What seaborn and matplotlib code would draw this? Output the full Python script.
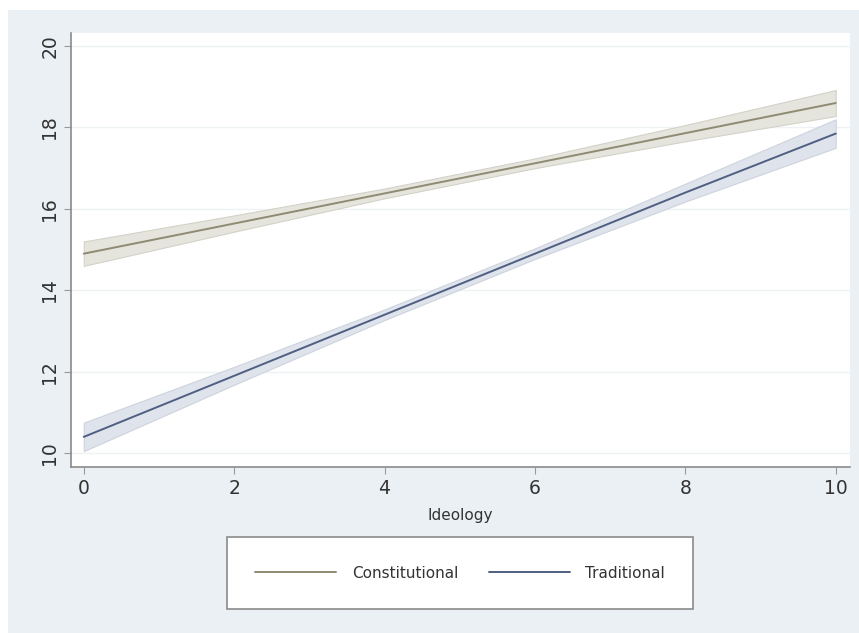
import numpy as np
import pandas as pd
import matplotlib
matplotlib.use("Agg")
import matplotlib.pyplot as plt
from matplotlib.patches import Rectangle
import seaborn as sns

# values
ideology = [0, 2, 4, 6, 8, 10]
constitutional = [14.9, 15.64, 16.38, 17.12, 17.86, 18.6]
constitutional_lo = [14.6, 15.44, 16.26, 17.0, 17.66, 18.28]
constitutional_hi = [15.2, 15.84, 16.5, 17.24, 18.06, 18.92]
traditional = [10.4, 11.9, 13.4, 14.9, 16.4, 17.85]
traditional_lo = [10.05, 11.68, 13.27, 14.77, 16.18, 17.5]
traditional_hi = [10.75, 12.12, 13.53, 15.03, 16.62, 18.2]

xticks = [0, 2, 4, 6, 8, 10]
yticks = [10, 12, 14, 16, 18, 20]

df = pd.DataFrame({
    "Ideology": ideology * 2,
    "value": constitutional + traditional,
    "group": ["Constitutional"] * 6 + ["Traditional"] * 6,
})

bg = "#eaf0f3"
line_cols = {"Constitutional": "#8f8b72", "Traditional": "#4f5f82"}
band_cols = {"Constitutional": "#e5e5de", "Traditional": "#dfe3eb"}

sns.set_theme(style="white")
plt.rcParams["font.family"] = ["DejaVu Sans"]

fig = plt.figure(figsize=(8.59, 6.33), dpi=100, facecolor="white")
fig.patches.append(Rectangle((8 / 859, 0), 1, 1 - 10 / 633, transform=fig.transFigure,
                             facecolor=bg, edgecolor="none", zorder=-10))
ax = fig.add_axes([71 / 859, 1 - 467 / 633, (850 - 71) / 859, (467 - 33) / 633])
ax.set_facecolor("white")

for y in yticks:
    ax.axhline(y, color="#eef2f4", lw=1, zorder=0)

ax.fill_between(ideology, constitutional_lo, constitutional_hi,
                color=band_cols["Constitutional"], edgecolor="#d2d2c8", lw=0.8, zorder=1)
ax.fill_between(ideology, traditional_lo, traditional_hi,
                color=band_cols["Traditional"], edgecolor="#cdd3de", lw=0.8, zorder=1)

sns.lineplot(data=df, x="Ideology", y="value", hue="group", palette=line_cols,
             lw=1.4, ax=ax, legend=False, zorder=3)

ax.set_xlim(-0.17, 10.19)
ax.set_ylim(9.66, 20.32)
ax.set_xticks(xticks)
ax.set_yticks(yticks)
ax.set_xlabel("Ideology", fontsize=11, color="#333333", labelpad=7)
ax.set_ylabel("")
ax.tick_params(axis="both", direction="out", length=5, width=0.8, color="#999999",
               labelsize=13.5, labelcolor="#333333", left=True, bottom=True)
for lab in ax.get_yticklabels():
    lab.set_rotation(90)
    lab.set_va("center")

for side in ["top", "right"]:
    ax.spines[side].set_visible(False)
for side in ["left", "bottom"]:
    ax.spines[side].set_color("#8a8a8a")
    ax.spines[side].set_linewidth(1.2)

handles = [plt.Line2D([], [], color=line_cols[g], lw=1.4) for g in ["Constitutional", "Traditional"]]
leg = fig.legend(handles, ["Constitutional", "Traditional"], loc="center",
                 bbox_to_anchor=(460 / 859, 1 - 573 / 633), ncol=2, fontsize=11,
                 frameon=True, fancybox=False, framealpha=1, handlelength=5.3,
                 handletextpad=1.0, columnspacing=2.0, borderpad=1.85)
leg.get_frame().set_edgecolor("#8a8a8a")
leg.get_frame().set_linewidth(1.2)
leg.get_frame().set_facecolor("white")
for t in leg.get_texts():
    t.set_color("#333333")

fig.savefig("out.png", dpi=100, facecolor=fig.get_facecolor())
